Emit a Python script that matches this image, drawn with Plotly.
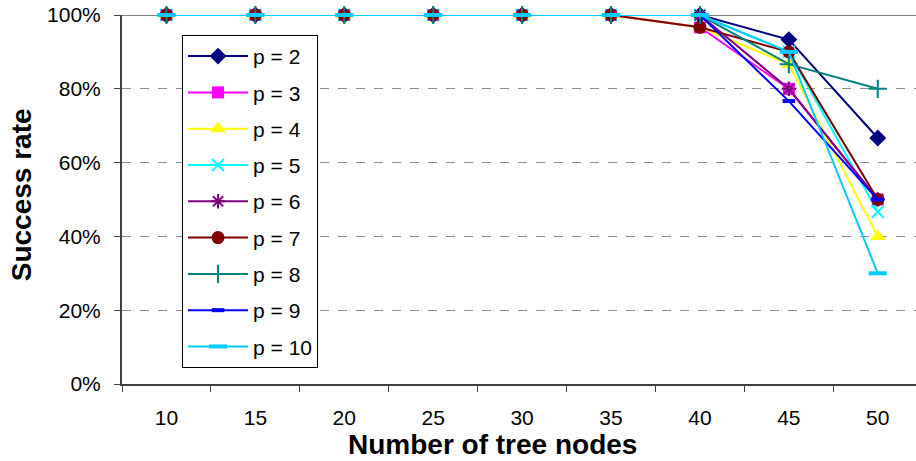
import plotly.graph_objects as go

nodes = ["10", "15", "20", "25", "30", "35", "40", "45", "50"]
series_names = ["p = 2", "p = 3", "p = 4", "p = 5", "p = 6", "p = 7", "p = 8", "p = 9", "p = 10"]
p2 = [1, 1, 1, 1, 1, 1, 1.0, 0.9333, 0.6667]
p3 = [1, 1, 1, 1, 1, 1, 0.9667, 0.80, 0.50]
p4 = [1, 1, 1, 1, 1, 1, 0.9667, 0.8667, 0.40]
p5 = [1, 1, 1, 1, 1, 1, 1.0, 0.90, 0.4667]
p6 = [1, 1, 1, 1, 1, 1, 1.0, 0.80, 0.50]
p7 = [1, 1, 1, 1, 1, 1, 0.9667, 0.90, 0.50]
p8 = [1, 1, 1, 1, 1, 1, 1.0, 0.8667, 0.80]
p9 = [1, 1, 1, 1, 1, 1, 1.0, 0.7667, 0.50]
p10 = [1, 1, 1, 1, 1, 1, 1.0, 0.90, 0.30]
values = [p2, p3, p4, p5, p6, p7, p8, p9, p10]
x_title = "Number of tree nodes"
y_title = "Success rate"

colors = ["#000080", "#FF00FF", "#FFFF00", "#00FFFF", "#800080", "#800000", "#008080", "#0000FF", "#00CCFF"]
symbols = ["diamond", "square", "triangle-up", "x-thin-open", "asterisk-open", "circle",
           "cross-thin-open", "line-ew-open", "line-ew-open"]
sizes = [13, 12, 14, 12, 12, 13, 13, 9, 13]
edge_widths = [0, 0, 0, 2, 2, 0, 2, 4, 4]

fig = go.Figure()
for name, vals, c, s, sz, ew in zip(series_names, values, colors, symbols, sizes, edge_widths):
    fig.add_trace(go.Scatter(
        x=nodes, y=vals, name=name, mode="lines+markers",
        line=dict(color=c, width=2),
        marker=dict(symbol=s, size=sz, color=c, line=dict(color=c, width=ew)),
        legendgroup=name,
        cliponaxis=False,
    ))

fig.add_shape(type="line", xref="paper", yref="y", x0=0, x1=1, y0=1, y1=1,
              line=dict(color="#808080", width=2), layer="below")

fig.add_annotation(text="<b>" + x_title + "</b>", xref="paper", yref="paper",
                   x=0.466, y=-0.165, xanchor="center", yanchor="middle",
                   showarrow=False, font=dict(size=28))
fig.add_annotation(text="<b>" + y_title + "</b>", xref="paper", yref="paper",
                   x=-0.127, y=0.512, xanchor="center", yanchor="middle", textangle=-90,
                   showarrow=False, font=dict(size=28))

fig.update_layout(
    width=916, height=461,
    margin=dict(l=122, r=0, t=15, b=77),
    paper_bgcolor="white", plot_bgcolor="white",
    font=dict(family="Liberation Sans, Arial, sans-serif", color="black", size=21),
    legend=dict(x=0.0756, y=0.946, xanchor="left", yanchor="top",
                bgcolor="white", bordercolor="black", borderwidth=1,
                font=dict(size=21), tracegroupgap=6, traceorder="grouped",
                itemwidth=60),
    xaxis=dict(type="category", range=[-0.5, 8.43], showgrid=False, automargin=False,
               showline=True, linecolor="#404040", linewidth=2,
               ticks="outside", ticklen=6, tickcolor="#404040", tickson="boundaries",
               ticklabelstandoff=14),
    yaxis=dict(range=[0, 1], tickvals=[0, 0.2, 0.4, 0.6, 0.8, 1.0], tickformat=".0%",
               showgrid=True, gridcolor="#8c8c8c", griddash="dash", gridwidth=1,
               showline=True, linecolor="#404040", linewidth=2, zeroline=False,
               automargin=False, ticklabelstandoff=9,
               ticks="outside", ticklen=6, tickcolor="#404040"),
)

fig.write_html("out.html", config={"displayModeBar": False},
               post_script="document.body.style.margin='0px';")
